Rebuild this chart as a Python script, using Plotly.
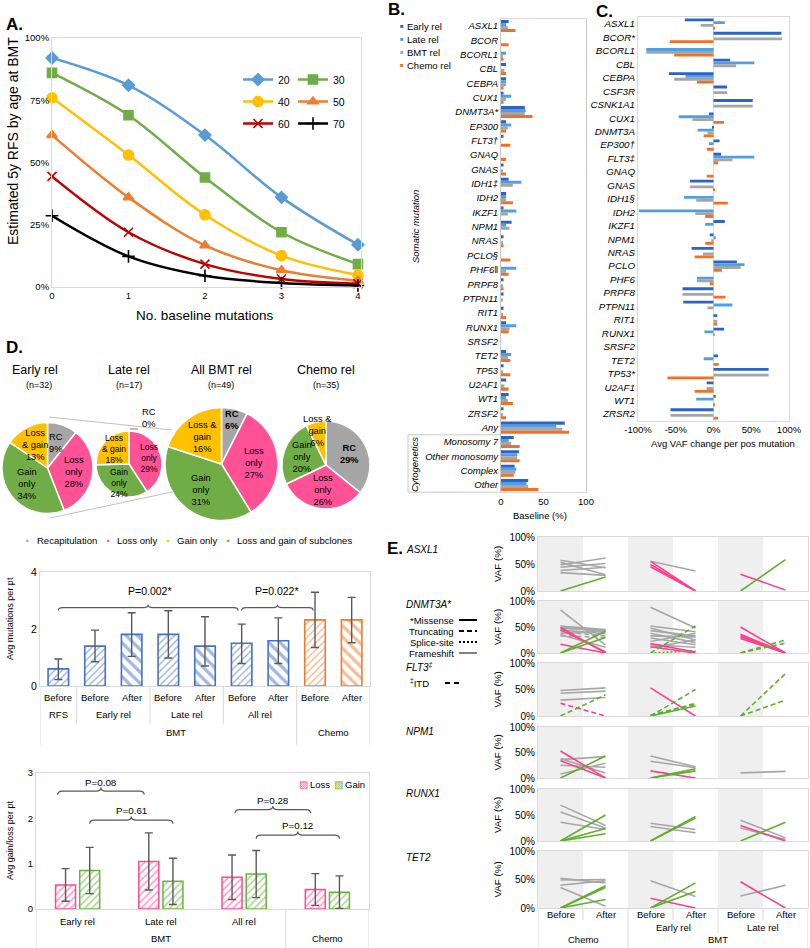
import math
import plotly.graph_objects as go

W, H = 810, 948
FONT = "Liberation Sans, Arial, sans-serif"
FRAME = "#D9D9D9"
ERR = "#595959"

# ---------------- Panel A data ----------------
A_MUTATIONS = [0, 1, 2, 3, 4]
A_AGES = ["20", "30", "40", "50", "60", "70"]
A_RFS_20 = [92, 81, 61, 36, 17]
A_RFS_30 = [86, 69, 44, 22, 9.2]
A_RFS_40 = [76, 53, 29, 12.6, 4.8]
A_RFS_50 = [61, 36, 16.7, 6.7, 2.5]
A_RFS_60 = [44.4, 22, 9.2, 3.2, 1.3]
A_RFS_70 = [28.6, 12.3, 4.5, 1.6, 0.6]
A_YTICKS = [0, 25, 50, 75, 100]

# ---------------- Panel B data ----------------
B_CATS = ["ASXL1", "BCOR", "BCORL1", "CBL", "CEBPA", "CUX1", "DNMT3A*", "EP300", "FLT3\u2020",
          "GNAQ", "GNAS", "IDH1\u2021", "IDH2", "IKZF1", "NPM1", "NRAS", "PCLO\u00a7", "PHF6\u2016",
          "PRPF8", "PTPN11", "RIT1", "RUNX1", "SRSF2", "TET2", "TP53", "U2AF1", "WT1", "ZRSF2",
          "Any", "Monosomy 7", "Other monosomy", "Complex", "Other"]
B_EARLY = [9, 0, 0, 6, 6, 3, 28, 6, 3, 0, 3, 9, 6, 3, 12.5, 3, 0, 0, 3, 3, 3, 6, 0, 6, 3, 6, 9, 3, 75, 15, 21, 16, 32]
B_LATE = [6, 0, 6, 0, 6, 12, 29, 12, 0, 0, 0, 24, 6, 18, 6, 0, 0, 18, 0, 0, 0, 18, 0, 12, 0, 0, 6, 0, 65, 9, 19, 18, 30]
B_BMT = [8, 0, 2, 4, 6, 6, 28, 8, 0, 0, 2, 14, 6, 8, 10, 2, 0, 6, 2, 2, 2, 10, 0, 8, 2, 4, 8, 2, 72, 12, 19, 17, 32]
B_CHEMO = [17, 9, 3, 6, 3, 3, 37, 6, 11, 6, 6, 0, 14, 0, 0, 3, 11, 9, 3, 0, 6, 9, 0, 11, 11, 9, 14, 6, 80, 22, 22, 15, 44]
B_SERIES = ["Early rel", "Late rel", "BMT rel", "Chemo rel"]

# ---------------- Panel C data ----------------
C_CATS = ["ASXL1", "BCOR*", "BCORL1", "CBL", "CEBPA", "CSF3R", "CSNK1A1", "CUX1", "DNMT3A", "EP300\u2020",
          "FLT3\u2021", "GNAQ", "GNAS", "IDH1\u00a7", "IDH2", "IKZF1", "NPM1", "NRAS", "PCLO", "PHF6",
          "PRPF8", "PTPN11", "RIT1", "RUNX1", "SRSF2", "TET2", "TP53*", "U2AF1", "WT1", "ZRSR2"]
C_EARLY = [-38, 90, 0, 22, -59, 18, 52, -6, -1, 8, 10, 0, -31, 0, 0, 15, -5, -29, 31, 0, -41, -40, 5, 14, 0, 6, 73, -9, 3, -57]
C_LATE = [15, 0, -89, 54, -37, 0, 0, -46, -21, -6, 54, 0, 0, -39, -99, -11, 3, 0, 41, -22, 0, 25, 0, -12, 0, -13, 0, 0, -23, 0]
C_BMT = [-17, 91, -89, 30, -52, 18, 52, -28, -8, 0, 25, 0, -31, -23, -24, 0, -3, -14, 36, -22, -41, -8, 5, 2, 0, 0, 73, -9, 0, -57]
C_CHEMO = [1, -58, -52, 0, -22, 0, 0, 14, -13, -9, 6, -9, 1, 19, -11, 0, -11, -25, 11, -5, 16, 0, 5, 0, 0, 7, -61, -25, 2, 6]
C_XTICKS = [-100, -50, 0, 50, 100]

# ---------------- Panel D pies ----------------
PIE_NAMES = ["Early rel", "Late rel", "All BMT rel", "Chemo rel"]
PIE_N = [32, 17, 49, 35]
PIE_SLICES = ["RC", "Loss only", "Gain only", "Loss & gain"]
PIE_EARLY = [9, 28, 34, 13]
PIE_LATE = [0, 29, 24, 18]
PIE_ALL = [6, 27, 31, 16]
PIE_CHEMO = [29, 26, 20, 6]
PIE_LEGEND = ["Recapitulation", "Loss only", "Gain only", "Loss and gain of subclones"]

# ---------------- Panel D bars (mutations per pt) ----------------
D1_PHASE = ["Before", "Before", "After", "Before", "After", "Before", "After", "Before", "After"]
D1_GROUP = ["RFS", "Early rel", "Early rel", "Late rel", "Late rel", "All rel", "All rel", "Chemo", "Chemo"]
D1_MEAN = [0.60, 1.40, 1.81, 1.81, 1.40, 1.50, 1.59, 2.32, 2.32]
D1_LOW = [0.23, 0.85, 1.04, 0.98, 0.70, 0.79, 0.79, 1.35, 1.52]
D1_HIGH = [0.95, 1.96, 2.57, 2.64, 2.43, 2.17, 2.39, 3.29, 3.11]
D1_PVALS = ["P=0.002*", "P=0.022*"]

# ---------------- Panel D bars (gain/loss per pt) ----------------
D2_GROUPS = ["Early rel", "Late rel", "All rel", "Chemo"]
D2_LOSS = [0.53, 1.05, 0.70, 0.43]
D2_LOSS_SD = [0.36, 0.63, 0.49, 0.35]
D2_GAIN = [0.85, 0.61, 0.77, 0.37]
D2_GAIN_SD = [0.51, 0.51, 0.52, 0.36]
D2_PVALS = ["P=0.08", "P=0.61", "P=0.28", "P=0.12"]

# ---------------- Panel E data: (column, before VAF, after VAF, change, mutation style) ----------------
E_COLUMNS = ["Chemo", "Early rel", "Late rel"]
E_GENES = ["ASXL1", "DNMT3A*", "FLT3<sup>\u2021</sup>", "NPM1", "RUNX1", "TET2"]
E_YTICKS = [0, 50, 100]
E_ASXL1 = [
    (0, 57, 43, "same", "solid"), (0, 53, 30, "same", "solid"), (0, 48, 61, "same", "solid"),
    (0, 44, 51, "same", "solid"), (0, 38, 44, "same", "solid"), (0, 34, 29, "same", "solid"),
    (0, 0, 26, "gain", "solid"),
    (1, 55, 37, "same", "solid"), (1, 55, 0, "loss", "solid"), (1, 49, 0, "loss", "solid"), (1, 45, 0, "loss", "solid"),
    (2, 31, 2, "loss", "solid"), (2, 0, 58, "gain", "solid"),
]
E_DNMT3A = [
    (0, 83, 15, "same", "solid"), (0, 52, 45, "same", "solid"), (0, 50, 40, "same", "solid"),
    (0, 47, 44, "same", "solid"), (0, 44, 37, "same", "solid"), (0, 41, 33, "same", "dash"),
    (0, 37, 42, "same", "solid"), (0, 33, 30, "same", "dash"), (0, 35, 11, "same", "solid"),
    (0, 49, 0, "loss", "solid"), (0, 45, 2, "loss", "solid"), (0, 17, 0, "loss", "solid"),
    (0, 0, 42, "gain", "solid"), (0, 0, 30, "gain", "solid"),
    (1, 88, 48, "same", "solid"), (1, 52, 41, "same", "solid"), (1, 48, 25, "same", "solid"),
    (1, 43, 33, "same", "solid"), (1, 38, 20, "same", "solid"), (1, 33, 31, "same", "solid"),
    (1, 29, 16, "same", "solid"), (1, 22, 38, "same", "solid"), (1, 16, 11, "same", "solid"),
    (1, 10, 25, "same", "solid"),
    (1, 18, 2, "loss", "solid"), (1, 12, 0, "loss", "solid"),
    (1, 0, 52, "gain", "dash"), (1, 0, 4, "gain", "dot"),
    (2, 50, 0, "loss", "solid"), (2, 36, 0, "loss", "solid"), (2, 33, 0, "loss", "solid"),
    (2, 31, 0, "loss", "solid"), (2, 28, 0, "loss", "solid"),
    (2, 0, 25, "gain", "dash"), (2, 0, 19, "gain", "dash"),
]
E_FLT3 = [
    (0, 48, 53, "same", "solid"), (0, 43, 47, "same", "solid"), (0, 30, 35, "same", "solid"),
    (0, 24, 0, "loss", "dash"), (0, 0, 40, "gain", "dash"),
    (1, 53, 0, "loss", "solid"), (1, 0, 50, "gain", "dash"), (1, 0, 24, "gain", "dash"),
    (1, 0, 19, "gain", "solid"), (1, 2, 22, "gain", "dash"),
    (2, 0, 80, "gain", "dash"), (2, 0, 30, "gain", "dash"),
]
E_NPM1 = [
    (0, 38, 10, "same", "solid"), (0, 36, 42, "same", "solid"), (0, 25, 21, "same", "solid"), (0, 8, 29, "same", "solid"),
    (0, 53, 0, "loss", "solid"), (0, 34, 0, "loss", "solid"), (0, 0, 43, "gain", "solid"),
    (1, 43, 22, "same", "solid"), (1, 33, 20, "same", "solid"), (1, 14, 0, "loss", "solid"),
    (1, 0, 18, "gain", "solid"), (1, 0, 14, "gain", "solid"),
    (2, 10, 13, "same", "solid"),
]
E_RUNX1 = [
    (0, 69, 30, "same", "solid"), (0, 56, 25, "same", "solid"), (0, 36, 22, "same", "solid"),
    (0, 0, 50, "gain", "solid"), (0, 0, 24, "gain", "solid"), (0, 0, 14, "gain", "solid"),
    (1, 34, 22, "same", "solid"), (1, 28, 16, "same", "solid"), (1, 0, 47, "gain", "solid"), (1, 0, 44, "gain", "solid"),
    (2, 40, 6, "same", "solid"), (2, 25, 3, "same", "solid"), (2, 30, 0, "loss", "solid"), (2, 0, 36, "gain", "solid"),
]
E_TET2 = [
    (0, 52, 44, "same", "solid"), (0, 49, 50, "same", "solid"), (0, 40, 48, "same", "solid"), (0, 36, 3, "same", "solid"),
    (0, 0, 39, "gain", "solid"), (0, 0, 36, "gain", "solid"), (0, 0, 15, "gain", "solid"),
    (1, 48, 20, "same", "solid"), (1, 17, 0, "loss", "solid"), (1, 0, 44, "gain", "solid"), (1, 0, 29, "gain", "solid"),
    (2, 46, 0, "loss", "solid"), (2, 21, 40, "same", "solid"),
]
E_LEGEND = ["*Missense", "Truncating", "Splice-site", "Frameshift"]

# ---------------- colours / helpers ----------------
A_COLORS = ["#5B9BD5", "#70AD47", "#FFC000", "#ED7D31", "#C00000", "#000000"]
A_SYMBOLS = ["diamond", "square", "circle", "triangle-up", "x-thin", "cross-thin"]
A_SIZES = [9, 9, 10, 9, 9, 9]
SER_COLORS = ["#2D62C9", "#4EA0E4", "#A5A5A5", "#F07026"]
PIE_COLORS = ["#A6A6A6", "#FF5296", "#70AD47", "#FFC000"]
LEG_COLORS = ["#A6A6A6", "#FF5296", "#FFC000", "#70AD47"]
BLUE, ORANGE = "#4472C4", "#ED7D31"
PINK, GREEN = "#FF4A91", "#6AB23E"
E_KIND_COLORS = {"same": "#A6A6A6", "loss": "#FF3E8C", "gain": "#5FAE2E"}
E_DASH = {"solid": "solid", "dash": "5px,3px", "dot": "2px,2px"}


def fx(p):
    return p / W


def fy(p):
    return 1 - p / H


def dx(a, b):
    return [a / W, b / W]


def dy(top, bottom):
    return [1 - bottom / H, 1 - top / H]


def pct(v):
    return f"{v}%"


ann, shp = [], []


def text(x, y, s, size=9.5, color="#000", xanchor="center", yanchor="middle", angle=0,
         xref="paper", yref="paper", bold=False, italic=False):
    if xref == "paper":
        x = fx(x)
    if yref == "paper":
        y = fy(y)
    ann.append(dict(x=x, y=y, xref=xref, yref=yref, text=s, showarrow=False, xanchor=xanchor,
                    yanchor=yanchor, textangle=angle, borderpad=0,
                    font=dict(size=size, color=color, family=FONT,
                              weight="bold" if bold else "normal",
                              style="italic" if italic else "normal")))


def pline(x0, y0, x1, y1, color="#BFBFBF", width=1, dash="solid", xref="paper", yref="paper"):
    if xref == "paper":
        x0, x1 = fx(x0), fx(x1)
    if yref == "paper":
        y0, y1 = fy(y0), fy(y1)
    shp.append(dict(type="line", x0=x0, y0=y0, x1=x1, y1=y1, xref=xref, yref=yref,
                    line=dict(color=color, width=width, dash=dash)))


def bracket(xref, yref, x0, x1, y, d, e):
    xm = (x0 + x1) / 2
    path = (f"M {x0},{y - d} Q {x0},{y} {x0 + e},{y} L {xm - e},{y} Q {xm},{y} {xm},{y + d} "
            f"Q {xm},{y} {xm + e},{y} L {x1 - e},{y} Q {x1},{y} {x1},{y - d}")
    shp.append(dict(type="path", path=path, xref=xref, yref=yref, line=dict(color=ERR, width=1.2)))


def axis(**kw):
    base = dict(showline=True, mirror=True, linecolor=FRAME, linewidth=1, showgrid=False,
                zeroline=False, ticks="", tickfont=dict(size=9.5, family=FONT, color="#000"),
                fixedrange=True, automargin=False)
    base.update(kw)
    return base


fig = go.Figure()
layout = {}

# ================= Panel A =================
A_SERIES = [A_RFS_20, A_RFS_30, A_RFS_40, A_RFS_50, A_RFS_60, A_RFS_70]
for i, (age, vals) in enumerate(zip(A_AGES, A_SERIES)):
    c = A_COLORS[i]
    fig.add_trace(go.Scatter(
        x=A_MUTATIONS, y=vals, name=age, mode="lines+markers", cliponaxis=False,
        line=dict(color=c, width=2.5, shape="spline", smoothing=1.0),
        marker=dict(symbol=A_SYMBOLS[i], size=A_SIZES[i], color=c, line=dict(color=c, width=1.6)),
        xaxis="x", yaxis="y", legend="legend" if i % 2 == 0 else "legend2", legendgroup=age,
        hoverinfo="skip"))
layout["xaxis"] = axis(domain=dx(52, 361), range=[0, 4.04], tickmode="array", tickvals=A_MUTATIONS,
                       ticktext=[str(v) for v in A_MUTATIONS], anchor="y")
layout["yaxis"] = axis(domain=dy(38, 287), range=[0, 100], tickmode="array", tickvals=A_YTICKS,
                       ticktext=[pct(v) for v in A_YTICKS], anchor="x")
for key, xpos in (("legend", 238), ("legend2", 293)):
    layout[key] = dict(x=fx(xpos), y=fy(65), xanchor="left", yanchor="top", bgcolor="rgba(0,0,0,0)",
                       font=dict(size=10.5, family=FONT), tracegroupgap=3, itemwidth=30)
text(5, 25, "A.", size=17, bold=True, xanchor="left")
text(13, 141, "Estimated 5y RFS by age at BMT", size=14, angle=-90)
text(205, 316, "No. baseline mutations", size=13.5)

# ================= Panel B =================
B_VALUES = [B_EARLY, B_LATE, B_BMT, B_CHEMO]
for k, (name, vals) in enumerate(zip(B_SERIES, B_VALUES)):
    fig.add_trace(go.Bar(y=B_CATS, x=vals, orientation="h", name=name, width=0.21,
                         offset=-0.42 + 0.21 * k, marker=dict(color=SER_COLORS[k], line=dict(width=0)),
                         xaxis="x2", yaxis="y2", showlegend=False, hoverinfo="skip"))
layout["xaxis2"] = axis(domain=dx(501, 586), range=[0, 100], tickmode="array", tickvals=[0, 50, 100],
                        ticktext=["0", "50", "100"], anchor="y2")
layout["yaxis2"] = axis(domain=dy(18.8, 492.2), type="category", autorange="reversed", anchor="x2",
                        linecolor="#C8C8C8",
                        tickfont=dict(size=9.5, family=FONT, color="#000", style="italic"))
text(387, 10, "B.", size=17, bold=True, xanchor="left")
for k, name in enumerate(B_SERIES):
    yy = 26 + 13 * k
    text(402, yy, "\u25a0", size=6, color=SER_COLORS[k])
    text(405.5, yy, name, size=9.5, xanchor="left")
text(540, 515, "Baseline (%)", size=9.5)
text(415, 227, "Somatic mutation", size=9.5, angle=-90, italic=True)
text(414, 464, "Cytogenetics", size=9.5, angle=-90, italic=True)
b_pitch = (492.2 - 18.8) / len(B_CATS)
b_sep = 18.8 + b_pitch * B_CATS.index("Monosomy 7")
pline(408, b_sep, 501, b_sep, color="#C8C8C8")
pline(408, 492.2, 501, 492.2, color="#C8C8C8")
pline(408, b_sep, 408, 492.2, color="#C8C8C8")

# ================= Panel C =================
C_VALUES = [C_EARLY, C_LATE, C_BMT, C_CHEMO]
for k, (name, vals) in enumerate(zip(B_SERIES, C_VALUES)):
    fig.add_trace(go.Bar(y=C_CATS, x=vals, orientation="h", name=name, width=0.21,
                         offset=-0.42 + 0.21 * k, marker=dict(color=SER_COLORS[k], line=dict(width=0)),
                         xaxis="x3", yaxis="y3", showlegend=False, hoverinfo="skip"))
layout["xaxis3"] = axis(domain=dx(638, 789), range=[-100, 100], tickmode="array", tickvals=C_XTICKS,
                        ticktext=[pct(v) for v in C_XTICKS], anchor="y3",
                        zeroline=True, zerolinecolor=FRAME, zerolinewidth=1)
layout["yaxis3"] = axis(domain=dy(17.3, 420.7), type="category", autorange="reversed", anchor="x3",
                        tickfont=dict(size=9.8, family=FONT, color="#000", style="italic"))
text(595, 12, "C.", size=17, bold=True, xanchor="left")
text(723, 443, "Avg VAF change per pos mutation", size=9.5)

# ================= Panel D pies =================
text(5, 348, "D.", size=17, bold=True, xanchor="left")
PIE_GEOM = [(47.5, 468, 45.5), (129, 464, 33), (221.5, 464, 56.5), (326, 465, 44)]
PIE_TITLE_X = [35, 129, 221, 326]
PIE_VALUES = [PIE_EARLY, PIE_LATE, PIE_ALL, PIE_CHEMO]
LG_TEXT = {0: "Loss<br>& gain", 1: "Loss<br>& gain", 2: "Loss &<br>gain", 3: "Loss &<br>gain"}
for p, (name, n, vals, (cx, cy, r)) in enumerate(zip(PIE_NAMES, PIE_N, PIE_VALUES, PIE_GEOM)):
    fig.add_trace(go.Pie(values=vals, labels=PIE_SLICES, sort=False, direction="clockwise", rotation=0,
                         marker=dict(colors=PIE_COLORS, line=dict(color="white", width=1.5)),
                         textinfo="none", hoverinfo="skip", showlegend=False,
                         domain=dict(x=dx(cx - r, cx + r), y=dy(cy - r, cy + r))))
    text(PIE_TITLE_X[p], 370, name, size=12.5)
    text(PIE_TITLE_X[p] + (4 if p == 0 else 0), 385, f"(n={n})", size=9)
    tot = sum(vals)
    cum = 0
    for s, v in enumerate(vals):
        if v == 0:
            continue
        mid = 2 * math.pi * (cum + v / 2) / tot
        cum += v
        f = 0.8 if v / tot < 0.09 else (0.64 if p == 1 else 0.58)
        lx = cx + f * r * math.sin(mid)
        ly = cy - f * r * math.cos(mid)
        head = {"RC": "RC", "Loss only": "Loss<br>only", "Gain only": "Gain<br>only",
                "Loss & gain": LG_TEXT[p]}[PIE_SLICES[s]]
        lab = f"{head}<br>{v}%"
        if PIE_SLICES[s] == "RC" and p >= 2:
            lab = f"<b>{lab}</b>"
        text(lx, ly, lab, size=8.5 if p == 1 else 9.3)
# zero RC slice of late relapse pie
text(149, 418, f"RC<br>{PIE_LATE[0]}%", size=9.3)
pline(130, 429, 138, 429, color="#7F7F7F")
# pie-of-pie connectors
pline(49, 417, 172, 430)
pline(50, 518, 172, 492)
# pie legend
for k, (lab, xpos) in enumerate(zip(PIE_LEGEND, [28, 108, 168, 228])):
    text(xpos, 540, "\u25a0", size=4.5, color=LEG_COLORS[k])
    text(xpos + 8, 540, lab, size=9.5, xanchor="left")

# ================= Panel D bars: mutations per pt =================
d1_x = list(range(len(D1_MEAN)))
d1_col = [ORANGE if g == "Chemo" else BLUE for g in D1_GROUP]
d1_shape = ["/" if ph == "Before" else "\\" for ph in D1_PHASE]
d1_size = [5 if ph == "Before" else 8 for ph in D1_PHASE]
d1_sol = [0.3 if ph == "Before" else 0.42 for ph in D1_PHASE]
fig.add_trace(go.Bar(
    x=d1_x, y=D1_MEAN, width=0.56, showlegend=False, hoverinfo="skip",
    marker=dict(color="white", line=dict(color=d1_col, width=1.6),
                pattern=dict(shape=d1_shape, fgcolor=d1_col, bgcolor="white", size=d1_size,
                             solidity=d1_sol)),
    error_y=dict(type="data", symmetric=False, array=[h - m for h, m in zip(D1_HIGH, D1_MEAN)],
                 arrayminus=[m - l for m, l in zip(D1_MEAN, D1_LOW)], color=ERR, thickness=1.4, width=4),
    xaxis="x4", yaxis="y4"))
layout["xaxis4"] = axis(domain=dx(40, 370), range=[-0.5, 8.5], showticklabels=False, anchor="y4")
layout["yaxis4"] = axis(domain=dy(572, 686), range=[0, 4], tickmode="array", tickvals=[0, 2, 4],
                        ticktext=["0", "2", "4"], anchor="x4",
                        tickfont=dict(size=10.5, family=FONT, color="#000"))
text(10, 619, "Avg mutations per pt", size=9, angle=-90)
for i, ph in enumerate(D1_PHASE):
    text(i, 697, ph, size=9.5, xref="x4")
groups = []
for i, g in enumerate(D1_GROUP):
    if groups and groups[-1][0] == g:
        groups[-1][2] = i
    else:
        groups.append([g, i, i])
for g, i0, i1 in groups:
    if g != "Chemo":
        text((i0 + i1) / 2, 714, g, size=9.5, xref="x4")
bmt_end = D1_GROUP.index("Chemo") - 1
text(bmt_end / 2 + 0.2, 732, "BMT", size=9.5, xref="x4")
text(len(D1_GROUP) - 1.5, 732, "Chemo", size=9.5, xref="x4")
for g, i0, i1 in groups[:-1]:
    pline(i1 + 0.5, 686, i1 + 0.5, 724 if g != "All rel" else 745, color=FRAME, xref="x4")
pline(-0.5, 686, -0.5, 745, color=FRAME, xref="x4")
pline(8.5, 686, 8.5, 745, color=FRAME, xref="x4")
i_rfs, i_allb, i_chb = 0, D1_GROUP.index("All rel"), D1_GROUP.index("Chemo")
bracket("x4", "y4", i_rfs, i_allb - 0.1, 2.75, 0.1, 0.12)
bracket("x4", "y4", i_allb, i_chb - 0.05, 2.75, 0.1, 0.12)
text((i_rfs + i_allb) / 2, 3.35, D1_PVALS[0], size=10.5, xref="x4", yref="y4")
text((i_allb + i_chb) / 2 - 0.05, 3.35, D1_PVALS[1], size=10.5, xref="x4", yref="y4")

# ================= Panel D bars: gain/loss per pt =================
gi = list(range(len(D2_GROUPS)))
fig.add_trace(go.Bar(
    x=[i - 0.145 for i in gi], y=D2_LOSS, width=0.24, name="Loss", showlegend=False, hoverinfo="skip",
    marker=dict(color="white", line=dict(color=PINK, width=1.5),
                pattern=dict(shape="/", fgcolor=PINK, bgcolor="white", size=5, solidity=0.35)),
    error_y=dict(type="data", array=D2_LOSS_SD, color=ERR, thickness=1.4, width=4),
    xaxis="x5", yaxis="y5"))
fig.add_trace(go.Bar(
    x=[i + 0.145 for i in gi], y=D2_GAIN, width=0.24, name="Gain", showlegend=False, hoverinfo="skip",
    marker=dict(color="white", line=dict(color=GREEN, width=1.5),
                pattern=dict(shape="/", fgcolor=GREEN, bgcolor="white", size=5, solidity=0.35)),
    error_y=dict(type="data", array=D2_GAIN_SD, color=ERR, thickness=1.4, width=4),
    xaxis="x5", yaxis="y5"))
layout["xaxis5"] = axis(domain=dx(36, 369), range=[-0.5, 3.5], showticklabels=False, anchor="y5")
layout["yaxis5"] = axis(domain=dy(773, 909), range=[0, 3], tickmode="array", tickvals=[0, 1, 2, 3],
                        ticktext=["0", "1", "2", "3"], anchor="x5")
text(10, 841, "Avg gain/loss per pt", size=9, angle=-90)
for i, g in enumerate(D2_GROUPS[:-1]):
    text(i, 921, g, size=9.5, xref="x5")
text(1, 938, "BMT", size=9.5, xref="x5")
text(3, 938, D2_GROUPS[-1], size=9.5, xref="x5")
for xb in (-0.5, 2.5, 3.5):
    pline(xb, 909, xb, 948, color=FRAME, xref="x5")
text(303, 784, "\u25a8", size=10, color=PINK)
text(309, 784, "Loss", size=9.5, xanchor="left")
text(338, 784, "\u25a8", size=10, color=GREEN)
text(344, 784, "Gain", size=9.5, xanchor="left")
bracket("x5", "y5", -0.24, 0.80, 2.60, 0.08, 0.06)
bracket("x5", "y5", 0.145, 1.145, 1.96, 0.08, 0.06)
bracket("x5", "y5", 1.89, 2.80, 2.19, 0.08, 0.06)
bracket("x5", "y5", 2.145, 3.145, 1.63, 0.08, 0.06)
text(0.28, 2.80, D2_PVALS[0], size=9.8, xref="x5", yref="y5")
text(0.645, 2.18, D2_PVALS[1], size=9.8, xref="x5", yref="y5")
text(2.345, 2.40, D2_PVALS[2], size=9.8, xref="x5", yref="y5")
text(2.645, 1.84, D2_PVALS[3], size=9.8, xref="x5", yref="y5")

# ================= Panel E =================
E_ROWS = [E_ASXL1, E_DNMT3A, E_FLT3, E_NPM1, E_RUNX1, E_TET2]
E_TOP = [537, 601, 663, 727, 789, 851]
E_BOT = [591, 653, 716, 778, 841, 908]
E_LABEL_Y = [549, 604, 667, 731, 793, 857]
order = {"same": 0, "loss": 1, "gain": 2}
for r, (gene, rows) in enumerate(zip(E_GENES, E_ROWS)):
    n = 6 + r
    xa, ya = f"x{n}", f"y{n}"
    for c in range(len(E_COLUMNS)):
        shp.append(dict(type="rect", xref=xa, yref=f"{ya} domain", x0=2 * c - 0.5, x1=2 * c + 0.5,
                        y0=0, y1=1, fillcolor="#EFEFEF", line=dict(width=0), layer="below"))
    for (c, before, after, kind, style) in sorted(rows, key=lambda t: order[t[3]]):
        fig.add_trace(go.Scatter(x=[2 * c, 2 * c + 1], y=[before, after], mode="lines",
                                 line=dict(color=E_KIND_COLORS[kind], width=1.6, dash=E_DASH[style]),
                                 xaxis=xa, yaxis=ya, showlegend=False, hoverinfo="skip",
                                 cliponaxis=False))
    layout[f"xaxis{n}"] = axis(domain=dx(538, 808), range=[-0.5, 5.5], showticklabels=False, anchor=ya)
    layout[f"yaxis{n}"] = axis(domain=dy(E_TOP[r], E_BOT[r]), range=[0, 100], tickmode="array",
                               tickvals=E_YTICKS, ticktext=[pct(v) for v in E_YTICKS], anchor=xa,
                               tickfont=dict(size=10, family=FONT, color="#000"))
    text(497, (E_TOP[r] + E_BOT[r]) / 2, "VAF (%)", size=9.8, angle=-90)
    text(405, E_LABEL_Y[r], gene, size=10, italic=True, xanchor="left")
text(386, 548, "E.", size=17, bold=True, xanchor="left")
# mutation-type legend
leg_y = [620, 631, 642, 653]
leg_dash = ["solid", "5px,3px", "2px,2px", "solid"]
leg_col = ["#000000", "#000000", "#000000", "#808080"]
for lab, yy, ds, cl in zip(E_LEGEND, leg_y, leg_dash, leg_col):
    text(455, yy, lab, size=9.5, xanchor="right")
    pline(459, yy, 477, yy, color=cl, width=2, dash=ds)
text(409, 683, "<sup>\u2021</sup>ITD", size=9.5, xanchor="left")
pline(445, 683, 463, 683, color="#000000", width=2, dash="5px,4px")
# x labels of panel E (bottom row axis)
last = f"x{6 + len(E_GENES) - 1}"
for c in range(len(E_COLUMNS)):
    text(2 * c, 914, "Before", size=9.5, xref=last)
    text(2 * c + 1, 914, "After", size=9.5, xref=last)
text(2.5, 927, E_COLUMNS[1], size=9.5, xref=last)
text(4.5, 927, E_COLUMNS[2], size=9.5, xref=last)
text(0.5, 939, E_COLUMNS[0], size=9.5, xref=last)
text(3.5, 939, "BMT", size=9.5, xref=last)
for xb, ybot in ((-0.5, 948), (0.5, 920), (1.5, 948), (2.5, 920), (3.5, 933), (4.5, 920), (5.5, 948)):
    pline(xb, 908, xb, ybot, color=FRAME, xref=last)

layout.update(dict(width=W, height=H, margin=dict(l=0, r=0, t=0, b=0, pad=0), paper_bgcolor="white",
                   plot_bgcolor="white", barmode="overlay", showlegend=True, autosize=False,
                   font=dict(family=FONT, size=10, color="#000"), annotations=ann, shapes=shp))
fig.update_layout(**layout)
fig.write_html("out.html", config={"displayModeBar": False},
               post_script="document.body.style.margin='0px';document.body.style.padding='0px';"
                           "document.body.style.overflow='hidden';")
